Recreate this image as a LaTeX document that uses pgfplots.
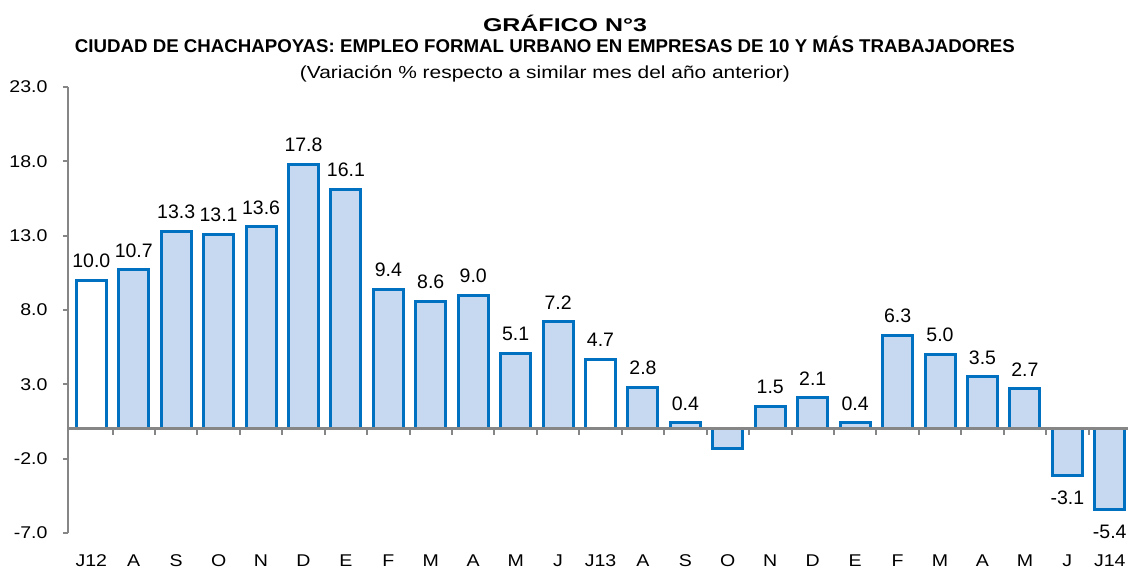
\documentclass[border=0pt]{standalone}
\usepackage{graphicx}
\usepackage{fontspec}
\setmainfont{Liberation Sans}
\usepackage{pgfplots}
\pgfplotsset{compat=1.18}
\usepackage{pgfplotstable}
\definecolor{barblue}{HTML}{0070C0}
\definecolor{barfill}{HTML}{C6D9F1}
\definecolor{axgrey}{HTML}{868686}
\newcommand\sx[1]{\scalebox{1.15}[1]{#1}}

\pgfplotstableread{
x y lab
1 10.7 10.7
2 13.3 13.3
3 13.1 13.1
4 13.6 13.6
5 17.8 17.8
6 16.1 16.1
7 9.4 9.4
8 8.6 8.6
9 9.0 9.0
10 5.1 5.1
11 7.2 7.2
13 2.8 2.8
14 0.4 0.4
16 1.5 1.5
17 2.1 2.1
18 0.4 0.4
19 6.3 6.3
20 5.0 5.0
21 3.5 3.5
22 2.7 2.7
}\bluedata

\pgfplotstableread{
x y lab
15 -1.3 {}
23 -3.1 -3.1
24 -5.4 -5.4
}\negdata

\pgfplotstableread{
x y lab
0 10.0 10.0
12 4.7 4.7
}\whitedata

\begin{document}
\begin{tikzpicture}
\useasboundingbox (-68pt,-39pt) rectangle (1060pt,533pt);
\begin{axis}[
  at={(0pt,0pt)}, anchor=south west, scale only axis,
  width=1060pt, height=446pt,
  xmin=-0.549, xmax=24.43, ymin=-7, ymax=23,
  axis x line*=bottom, axis y line*=left,
  x axis line style={draw=none},
  y axis line style={axgrey, line width=2.5pt, -},
  xtick={0,...,24},
  xticklabels={\sx{J12},\sx{A},\sx{S},\sx{O},\sx{N},\sx{D},\sx{E},\sx{F},\sx{M},\sx{A},\sx{M},\sx{J},\sx{J13},\sx{A},\sx{S},\sx{O},\sx{N},\sx{D},\sx{E},\sx{F},\sx{M},\sx{A},\sx{M},\sx{J},\sx{J14}},
  x tick style={draw=none},
  ytick={-7,-2,3,8,13,18,23},
  yticklabels={\sx{-7.0},\sx{-2.0},\sx{3.0},\sx{8.0},\sx{13.0},\sx{18.0},\sx{23.0}},
  y tick style={axgrey, line width=2pt},
  tick align=outside, major tick length=5pt,
  ticklabel style={font=\fontsize{17}{17}\selectfont},
  xticklabel style={anchor=base, yshift=-29pt},
  yticklabel style={anchor=east, xshift=-12pt},
  ybar, bar width=30pt,
  clip=false,
  point meta=explicit symbolic,
  nodes near coords={\pgfplotspointmeta},
  nodes near coords style={font=\fontsize{19.5}{19.5}\selectfont, text=black},
]
\addplot[draw=barblue, fill=barfill, line width=3pt, bar shift=0pt,
  nodes near coords style={anchor=south, inner sep=11pt}] table[x=x, y=y, meta=lab] \bluedata;
\addplot[draw=barblue, fill=barfill, line width=3pt, bar shift=0pt,
  nodes near coords style={anchor=north, inner sep=14pt}] table[x=x, y=y, meta=lab] \negdata;
\addplot[draw=barblue, fill=white, line width=3pt, bar shift=0pt,
  nodes near coords style={anchor=south, inner sep=11pt}] table[x=x, y=y, meta=lab] \whitedata;
\draw[axgrey, line width=3pt] (axis cs:-0.549,0) -- (axis cs:24.43,0);
\pgfplotsinvokeforeach{0,...,23}{
  \draw[axgrey, line width=2pt] (axis cs:#1.5,0) -- ++(0pt,-6pt);
}
\end{axis}
\node[anchor=base] at (497pt,501pt) {\resizebox{164pt}{\height}{\fontsize{18.5}{18.5}\selectfont\bfseries GRÁFICO N°3}};
\node[anchor=base] at (477pt,480pt) {\resizebox{940pt}{\height}{\fontsize{18.5}{18.5}\selectfont\bfseries CIUDAD DE CHACHAPOYAS: EMPLEO FORMAL URBANO EN EMPRESAS DE 10 Y MÁS TRABAJADORES}};
\node[anchor=base] at (477pt,454pt) {\resizebox{490pt}{\height}{\fontsize{17.5}{17.5}\selectfont (Variación \% respecto a similar mes del año anterior)}};
\end{tikzpicture}
\end{document}
